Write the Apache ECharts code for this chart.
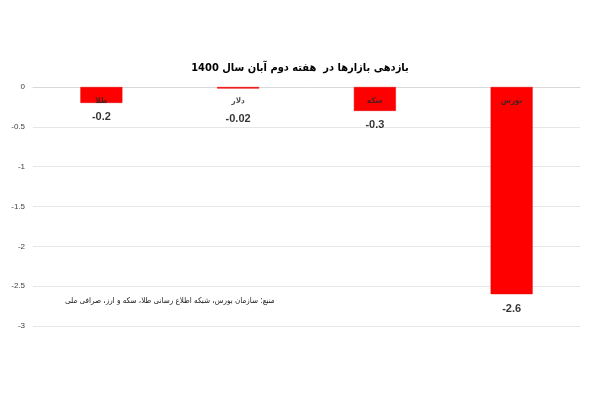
<!DOCTYPE html>
<html><head><meta charset="utf-8">
<script src="https://cdn.jsdelivr.net/npm/echarts@6/dist/echarts.min.js"></script>
<style>html,body{margin:0;padding:0;background:#fff}#c{width:600px;height:400px}</style>
</head><body><div id="c"></div>
<script>
const categories = ['طلا', 'دلار', 'سکه', 'بورس'];
const values = [-0.2, -0.02, -0.3, -2.6];
const valueLabels = ['-0.2', '-0.02', '-0.3', '-2.6'];
const titleText = 'بازدهی بازارها در  هفته دوم آبان سال 1400';
const sourceText = 'منبع: سازمان بورس، شبکه اطلاع رسانی طلا، سکه و ارز، صرافی ملی';

const chart = echarts.init(document.getElementById('c'));
const arabicFont = '"DejaVu Sans Condensed", "DejaVu Sans", sans-serif';
chart.setOption({
  animation: false,
  title: {
    text: titleText, left: 'center', top: 58,
    textStyle: { fontFamily: arabicFont, fontSize: 11, fontWeight: 'bold', color: '#000' }
  },
  grid: { left: 33, right: 20, top: 87, bottom: 74 },
  xAxis: {
    type: 'category', data: categories, position: 'top',
    axisLine: { lineStyle: { color: '#d9d9d9' } },
    axisTick: { show: false }, axisLabel: { show: false }
  },
  yAxis: {
    type: 'value', min: -3, max: 0, interval: 0.5,
    axisLine: { show: false }, axisTick: { show: false },
    axisLabel: { fontSize: 8, color: '#404040', margin: 8, fontFamily: '"Liberation Sans", sans-serif' },
    splitLine: { lineStyle: { color: '#e6e6e6' } }
  },
  series: [
    {
      type: 'bar', data: values, barWidth: 42,
      itemStyle: { color: '#ff0000', borderColor: '#e00000', borderWidth: 0.5 }
    },
    {
      type: 'scatter', symbolSize: 0, silent: true,
      data: categories.map((c, i) => [i, 0]),
      label: {
        show: true, position: 'bottom', distance: 10,
        formatter: p => categories[p.data[0]],
        fontFamily: arabicFont, fontSize: 8, fontWeight: 'bold', color: '#262626'
      }
    },
    {
      type: 'scatter', symbolSize: 0, silent: true,
      data: values.map((v, i) => ({
        value: [i, v],
        label: i === 1 ? { distance: 25 } : {}
      })),
      label: {
        show: true, position: 'bottom', distance: 9,
        formatter: p => valueLabels[p.dataIndex],
        fontFamily: '"Liberation Sans", sans-serif', fontSize: 11, fontWeight: 'bold', color: '#000'
      }
    }
  ],
  graphic: [{
    type: 'text', left: 65, top: 297,
    style: { text: sourceText, font: '8px "DejaVu Sans Condensed", "DejaVu Sans", sans-serif', fill: '#1a1a1a' }
  }]
});
</script></body></html>
